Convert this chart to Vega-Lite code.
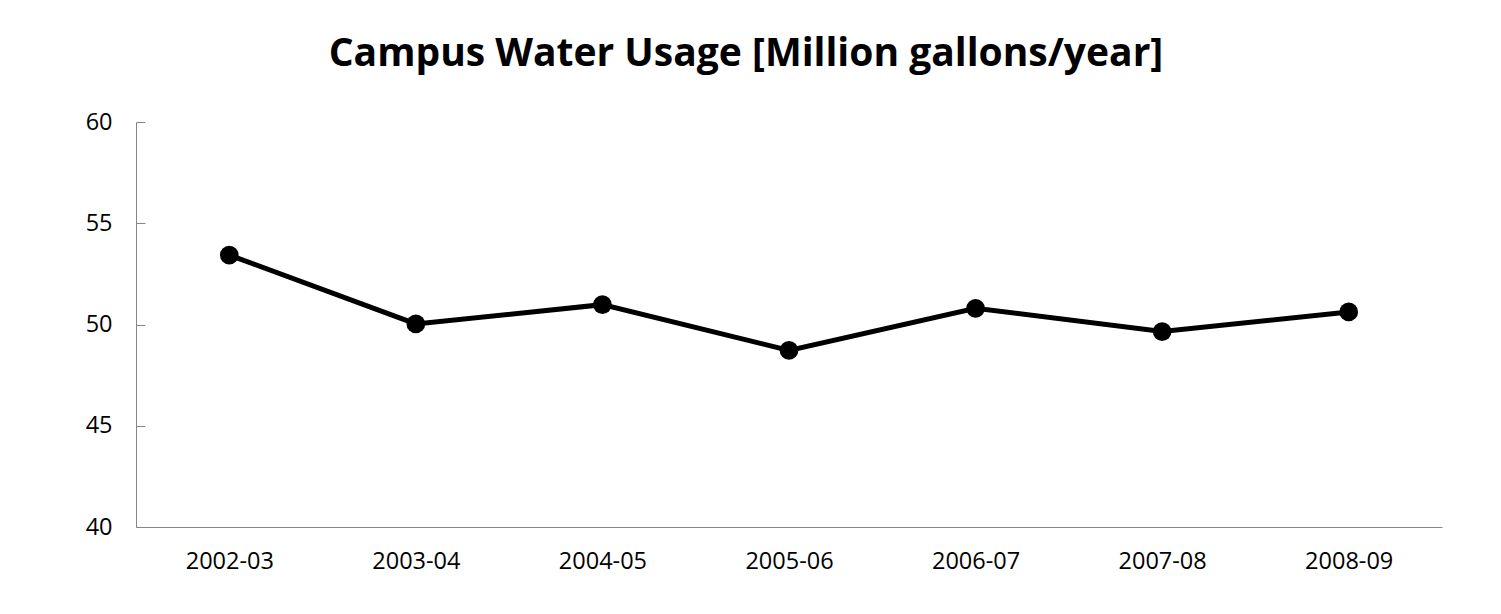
{
  "$schema": "https://vega.github.io/schema/vega-lite/v6.json",
  "autosize": "none",
  "width": 1306,
  "height": 405,
  "padding": {"left": 136, "top": 122, "right": 59, "bottom": 87},
  "background": "white",
  "title": {
    "text": "Campus Water Usage [Million gallons/year]",
    "font": "Open Sans",
    "fontSize": 39,
    "fontWeight": "bold",
    "color": "black",
    "anchor": "middle",
    "dx": -43,
    "offset": 36
  },
  "config": {
    "view": {"stroke": null},
    "axis": {"labelFont": "Open Sans", "labelFontSize": 23.5, "labelColor": "black", "domainColor": "#868686", "tickColor": "#868686", "grid": false, "title": null}
  },
  "data": {
    "values": [
      {"year": "2002-03", "usage": 53.43},
      {"year": "2003-04", "usage": 50.03},
      {"year": "2004-05", "usage": 50.98},
      {"year": "2005-06", "usage": 48.72},
      {"year": "2006-07", "usage": 50.8},
      {"year": "2007-08", "usage": 49.65},
      {"year": "2008-09", "usage": 50.62}
    ]
  },
  "encoding": {
    "x": {"field": "year", "type": "ordinal", "scale": {"paddingInner": 0, "paddingOuter": 0.5}, "axis": {"labelAngle": 0, "ticks": false, "labelPadding": 22}},
    "y": {"field": "usage", "type": "quantitative", "scale": {"domain": [40, 60], "nice": false, "zero": false}, "axis": {"values": [40, 45, 50, 55, 60], "tickSize": -9, "labelPadding": 33}}
  },
  "layer": [
    {"mark": {"type": "line", "color": "black", "strokeWidth": 5}},
    {"mark": {"type": "point", "filled": true, "color": "black", "size": 350, "opacity": 1}}
  ]
}
